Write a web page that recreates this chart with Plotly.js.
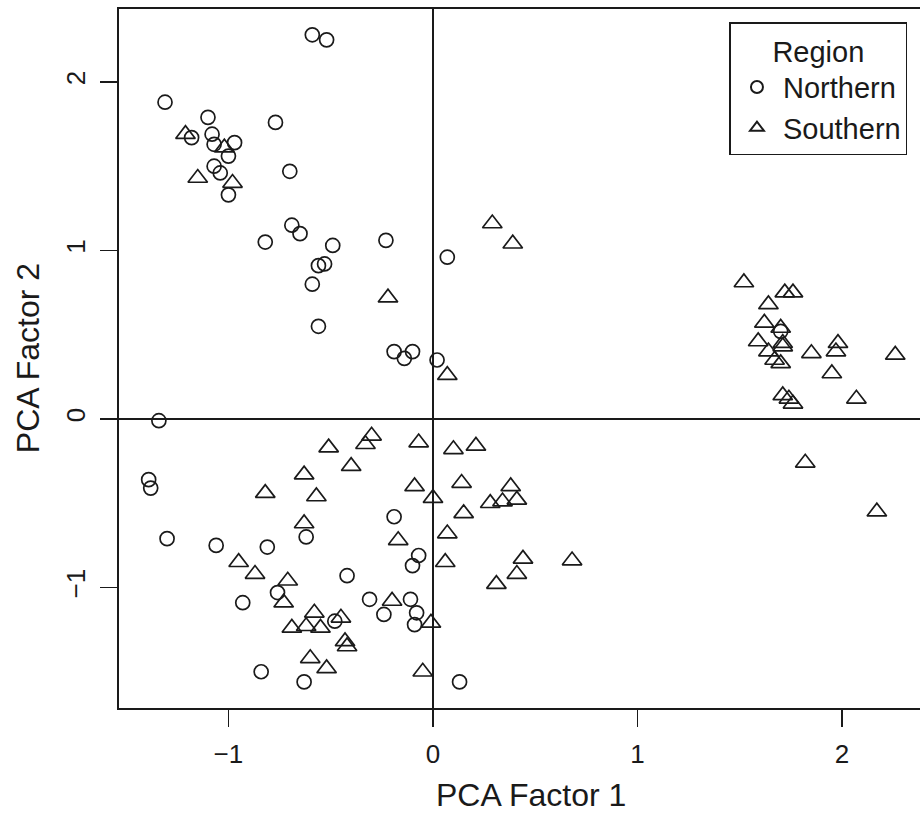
<!DOCTYPE html>
<html>
<head>
<meta charset="utf-8">
<script src="https://cdn.plot.ly/plotly-3.0.1.min.js"></script>
<style>html,body{margin:0;padding:0;background:#fff;}#chart{width:920px;height:817px;}</style>
</head>
<body>
<div id="chart"></div>
<script>
// Northern region (circles)
const northernX = [-0.59,-0.52,-1.31,-1.10,-1.18,-0.77,-1.08,-1.07,-0.97,-1.00,-1.07,-1.04,-0.70,-1.00,
  -0.69,-0.65,-0.82,-0.49,-0.23,-0.56,-0.53,-0.59,-0.56,-0.19,-0.14,-0.10,0.02,-1.34,0.07,
  -1.39,-1.38,-1.30,-1.06,-0.81,-0.62,-0.19,-0.93,-0.76,-0.42,-0.07,-0.10,-0.31,-0.24,-0.11,-0.08,-0.09,-0.48,-0.84,-0.63,0.13,
  1.70];
const northernY = [2.28,2.25,1.88,1.79,1.67,1.76,1.69,1.63,1.64,1.56,1.50,1.46,1.47,1.33,
  1.15,1.10,1.05,1.03,1.06,0.91,0.92,0.80,0.55,0.40,0.36,0.40,0.35,-0.01,0.96,
  -0.36,-0.41,-0.71,-0.75,-0.76,-0.70,-0.58,-1.09,-1.03,-0.93,-0.81,-0.87,-1.07,-1.16,-1.07,-1.15,-1.22,-1.20,-1.50,-1.56,-1.56,
  0.52];
// Southern region (triangles)
const southernX = [-1.21,-1.02,-1.15,-0.98,-0.22,0.29,0.39,0.07,
  -0.30,-0.33,-0.51,-0.07,-0.40,-0.63,-0.82,-0.57,-0.09,0.00,-0.63,-0.17,-0.95,-0.87,-0.71,-0.73,-0.20,-0.58,-0.45,-0.69,-0.62,-0.55,-0.01,-0.43,-0.42,-0.60,-0.52,-0.05,
  0.10,0.21,0.14,0.38,0.28,0.34,0.41,0.15,0.07,0.06,0.44,0.68,0.41,0.31,
  1.52,1.72,1.76,1.64,1.62,1.70,1.71,1.71,1.59,1.64,1.67,1.70,1.85,1.98,1.97,1.95,2.26,1.71,1.74,1.76,2.07,1.82,2.17];
const southernY = [1.69,1.61,1.43,1.40,0.72,1.16,1.04,0.26,
  -0.10,-0.15,-0.17,-0.14,-0.28,-0.33,-0.44,-0.46,-0.40,-0.47,-0.62,-0.72,-0.85,-0.92,-0.96,-1.09,-1.08,-1.15,-1.18,-1.24,-1.23,-1.24,-1.21,-1.32,-1.35,-1.42,-1.48,-1.50,
  -0.18,-0.16,-0.38,-0.40,-0.50,-0.49,-0.48,-0.56,-0.68,-0.85,-0.83,-0.84,-0.92,-0.98,
  0.81,0.75,0.75,0.68,0.57,0.54,0.45,0.43,0.46,0.40,0.35,0.33,0.39,0.45,0.40,0.27,0.38,0.14,0.12,0.09,0.12,-0.26,-0.55];
const tickVals = [-1, 0, 1, 2];
const xTitle = 'PCA Factor 1';
const yTitle = 'PCA Factor 2';

const FONT = 'Liberation Sans, Arial, Helvetica, sans-serif';
const INK = '#1a1a1a';

const traces = [
  {type:'scatter', mode:'markers', name:'Northern', x:northernX, y:northernY,
   marker:{symbol:'circle-open', size:14, color:INK, line:{width:1.7, color:INK}}},
  {type:'scatter', mode:'markers', name:'Southern', x:southernX, y:southernY,
   marker:{symbol:'triangle-up-open', size:17, color:INK, line:{width:1.7, color:INK}}}
];

const axisCommon = {
  showgrid:false, zeroline:true, zerolinecolor:INK, zerolinewidth:1.6,
  showline:true, mirror:true, linecolor:INK, linewidth:1.6,
  ticks:'outside', ticklen:17, tickwidth:1.6, tickcolor:INK,
  tickvals:tickVals, tickfont:{family:FONT, size:26, color:INK},
  automargin:false
};

const layout = {
  width:920, height:817,
  margin:{l:119, r:0, t:9, b:109},
  paper_bgcolor:'#fff', plot_bgcolor:'#fff',
  font:{family:FONT, color:INK},
  showlegend:true,
  xaxis:Object.assign({}, axisCommon, {
    range:[-1.535, 2.381],
    ticklabelstandoff:5
  }),
  yaxis:Object.assign({}, axisCommon, {
    range:[-1.715, 2.433],
    tickangle:-90,
    ticklabelstandoff:5
  }),
  annotations:[
    {text:xTitle, xref:'paper', yref:'paper', x:0.514, y:-0.125, xanchor:'center', yanchor:'middle',
     showarrow:false, font:{family:FONT, size:32, color:INK}},
    {text:yTitle, xref:'paper', yref:'paper', x:-0.114, y:0.5, xanchor:'center', yanchor:'middle',
     textangle:-90, showarrow:false, font:{family:FONT, size:32, color:INK}}
  ],
  legend:{
    x:0.762, y:0.981, xanchor:'left', yanchor:'top',
    bgcolor:'#fff', bordercolor:INK, borderwidth:1.6,
    font:{family:FONT, size:29, color:INK},
    title:{text:'Region', side:'top center', font:{family:FONT, size:29, color:INK}},
    itemsizing:'constant', itemwidth:42, tracegroupgap:0
  }
};

Plotly.newPlot('chart', traces, layout, {displayModeBar:false, staticPlot:true});
</script>
</body>
</html>
